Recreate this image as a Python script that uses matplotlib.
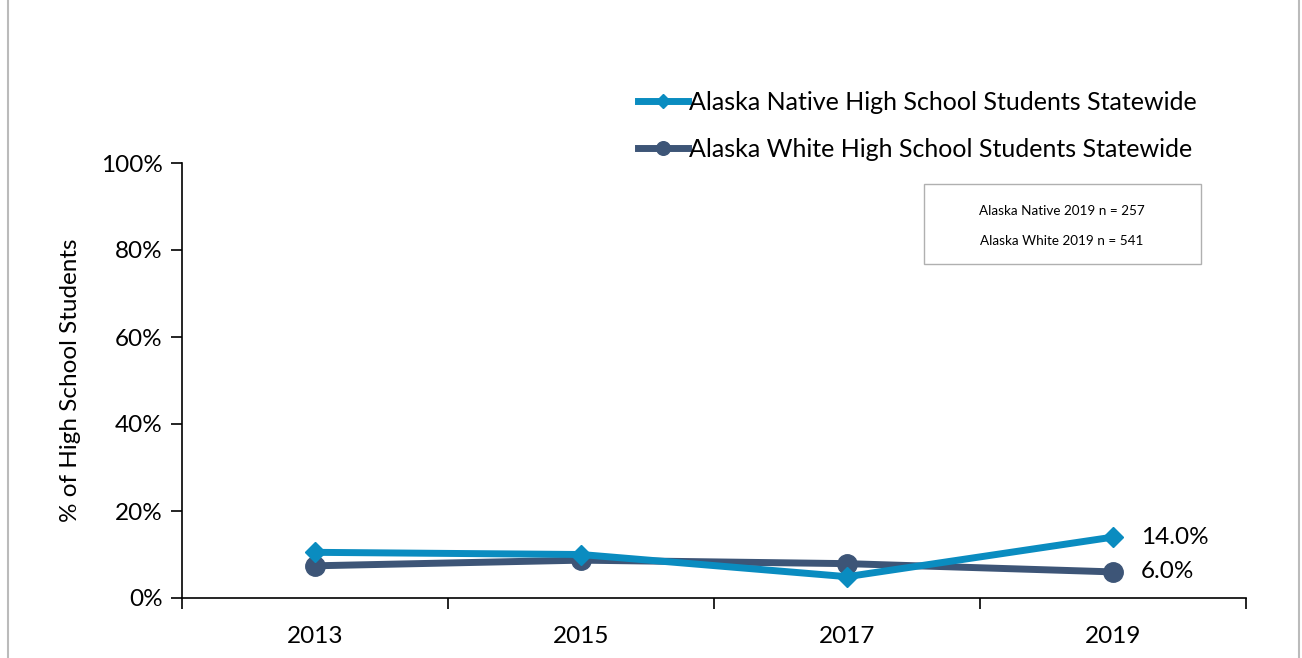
import matplotlib
matplotlib.use("Agg")
import matplotlib.pyplot as plt
from matplotlib.patches import Rectangle
from matplotlib.ticker import FixedLocator, PercentFormatter

years = ["2013", "2015", "2017", "2019"]
native = [10.5, 10.0, 4.9, 14.0]
white = [7.4, 8.7, 7.9, 6.0]
native_label = "Alaska Native High School Students Statewide"
white_label = "Alaska White High School Students Statewide"
note_lines = ["Alaska Native 2019 n = 257", "Alaska White 2019 n = 541"]

plt.rcParams['font.family'] = ['Lato', 'DejaVu Sans']

fig = plt.figure(figsize=(13.02, 6.58), dpi=100)
ax = fig.add_axes([182/1302, 1-598/658, (1246-182)/1302, (598-163)/658])

native_c = "#0A8CC0"
white_c = "#3D5577"
x = list(range(len(years)))
ln1, = ax.plot(x, native, color=native_c, lw=5, marker="D", ms=10,
               label=native_label, zorder=3)
ln2, = ax.plot(x, white, color=white_c, lw=5, marker="o", ms=14,
               label=white_label, zorder=2)

ax.annotate(f"{native[-1]:.1f}%", (x[-1], native[-1]), xytext=(20, 0),
            textcoords="offset points", va="center", ha="left", fontsize=17.5)
ax.annotate(f"{white[-1]:.1f}%", (x[-1], white[-1]), xytext=(20, 0),
            textcoords="offset points", va="center", ha="left", fontsize=17.5)

ax.set_xlim(-0.5, len(years) - 0.5)
ax.set_ylim(0, 100)
ax.set_xticks(x)
ax.set_xticklabels(years, fontsize=17.5)
ax.xaxis.set_minor_locator(FixedLocator([i - 0.5 for i in range(len(years) + 1)]))
ax.tick_params(axis="x", which="major", length=0, pad=20)
ax.tick_params(axis="x", which="minor", length=8, width=1.2, direction="out")
ax.set_yticks([0, 20, 40, 60, 80, 100])
ax.yaxis.set_major_formatter(PercentFormatter(decimals=0))
ax.tick_params(axis="y", length=8, width=1.2, labelsize=17.5, pad=6)
for s in ["top", "right"]:
    ax.spines[s].set_visible(False)
for s in ["left", "bottom"]:
    ax.spines[s].set_linewidth(1.2)
ax.set_ylabel("% of High School Students", fontsize=17.5, labelpad=14)

fig.legend(handles=[ln1, ln2], loc="upper left",
           bbox_to_anchor=(628/1302, 1-81/658), frameon=False, fontsize=18,
           handlelength=2.0, handletextpad=0.05, labelspacing=0.95,
           markerscale=0.7, borderaxespad=0)

box = Rectangle((924/1302, 1-264/658), (1201-924)/1302, (264-184)/658,
                transform=fig.transFigure, fill=False, edgecolor="#B0B0B0", lw=1)
fig.add_artist(box)
fig.text(1062/1302, 1-211/658, note_lines[0], ha="center", va="center", fontsize=9.7)
fig.text(1062/1302, 1-241/658, note_lines[1], ha="center", va="center", fontsize=9.7)

border = Rectangle((8/1302, -0.05), (1299-8)/1302, 1.1, transform=fig.transFigure,
                   fill=False, edgecolor="#BBBBBB", lw=1.5)
fig.add_artist(border)

fig.savefig("out.png", dpi=100)
